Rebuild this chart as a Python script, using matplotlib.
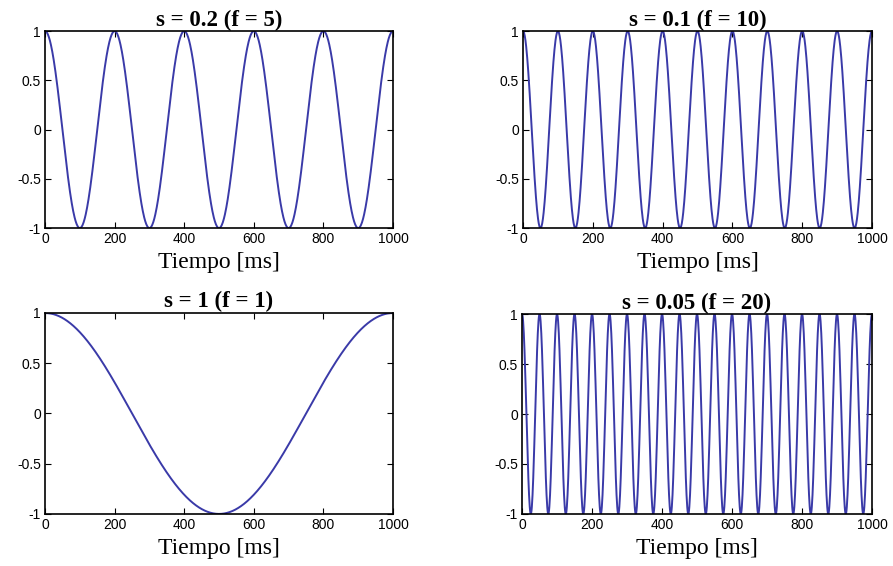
import numpy as np
import matplotlib.pyplot as plt

# escala s y frecuencia f (Hz) de cada panel
escalas = ['0.2', '0.1', '1', '0.05']
frecs = [5, 10, 1, 20]
t_ms = np.arange(0, 1001, 1)          # tiempo en ms
yticks = [-1, -0.5, 0, 0.5, 1]
ytick_lbl = ['-1', '-0.5', '0', '0.5', '1']
xticks = [0, 200, 400, 600, 800, 1000]

color = '#3a3aa8'
serif = ['Liberation Serif', 'DejaVu Serif']
sans = ['Liberation Sans', 'DejaVu Sans']

fig = plt.figure(figsize=(8.93, 5.66), dpi=100)

# [left, bottom, width, height] en fraccion de la figura
pos = [[0.0504, 0.597, 0.3897, 0.348],
       [0.5857, 0.597, 0.3908, 0.348],
       [0.0504, 0.092, 0.3897, 0.355],
       [0.5846, 0.092, 0.3919, 0.353]]

for i in range(4):
    ax = fig.add_axes(pos[i])
    y = np.cos(2*np.pi*frecs[i]*t_ms/1000.0)
    ax.plot(t_ms, y, color=color, lw=1.4)
    ax.set_xlim(0, 1000)
    ax.set_ylim(-1, 1)
    ax.set_xticks(xticks)
    ax.set_xticklabels([str(v) for v in xticks], family=sans, fontsize=10)
    ax.set_yticks(yticks)
    ax.set_yticklabels(ytick_lbl, family=sans, fontsize=10)
    ax.tick_params(direction='in', top=True, right=True, length=4, pad=3)
    for s in ax.spines.values():
        s.set_linewidth(1.2)
    ax.set_title('s = %s (f = %d)' % (escalas[i], frecs[i]),
                 family=serif, fontweight='bold', fontsize=16.5, pad=4)
    ax.set_xlabel('Tiempo [ms]', family=serif, fontsize=17, labelpad=4)

fig.savefig('out.png', dpi=100)
